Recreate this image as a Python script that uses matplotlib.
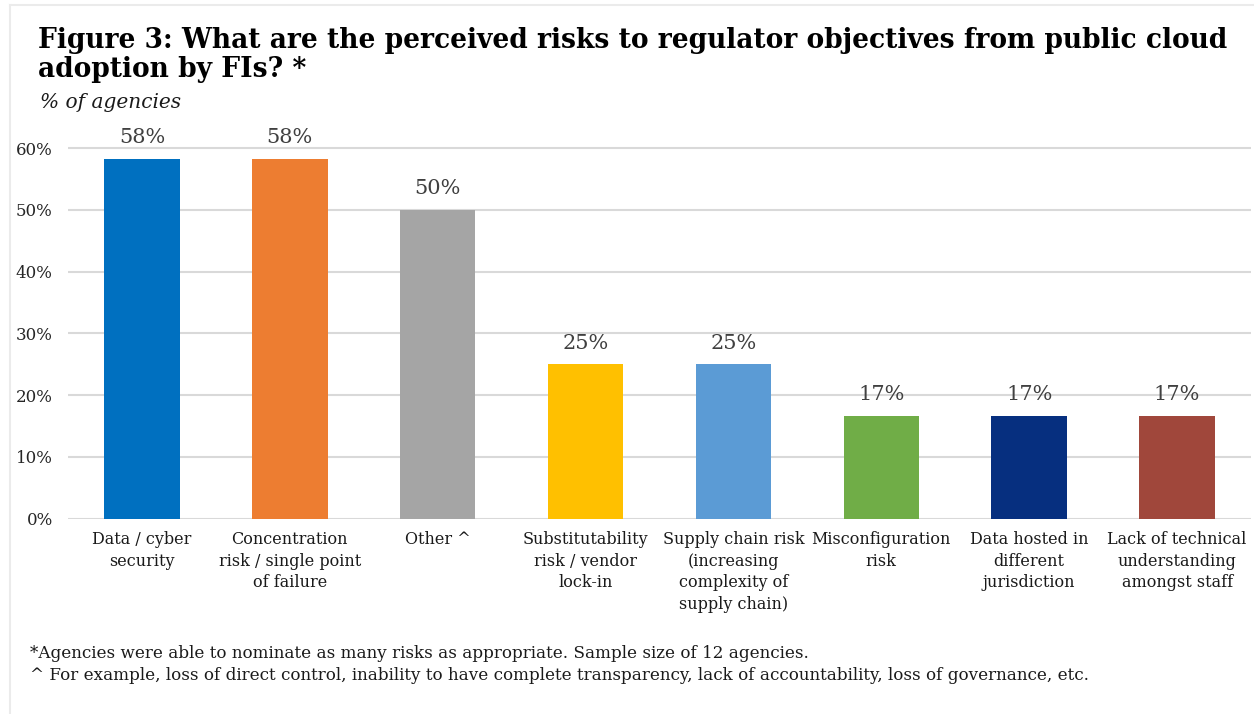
import matplotlib
matplotlib.use("Agg")
import matplotlib.pyplot as plt
from matplotlib.lines import Line2D

plt.rcParams['font.family'] = ['DejaVu Serif']

categories = [
    "Data / cyber\nsecurity",
    "Concentration\nrisk / single point\nof failure",
    "Other ^",
    "Substitutability\nrisk / vendor\nlock-in",
    "Supply chain risk\n(increasing\ncomplexity of\nsupply chain)",
    "Misconfiguration\nrisk",
    "Data hosted in\ndifferent\njurisdiction",
    "Lack of technical\nunderstanding\namongst staff",
]
# agencies nominating each risk, out of a sample of 12
counts = [7, 7, 6, 3, 3, 2, 2, 2]
sample_size = 12
shares = [100 * c / sample_size for c in counts]
colors = ["#0070C0", "#ED7D31", "#A5A5A5", "#FFC000",
          "#5B9BD5", "#70AD47", "#062F7F", "#A0473B"]
yticks = [0, 10, 20, 30, 40, 50, 60]

fig = plt.figure(figsize=(12.54, 7.14), dpi=100)
ax = fig.add_axes([68 / 1254, 1 - 518.5 / 714, (1251 - 68) / 1254, (518.5 - 145.2) / 714])

x = list(range(len(categories)))
ax.bar(x, shares, width=0.51, color=colors, zorder=3)
for xi, v in zip(x, shares):
    ax.text(xi, v + 1.9, f"{v:.0f}%", ha="center", va="bottom",
            fontsize=15, color="#404040")

ax.set_xlim(-0.5, len(categories) - 0.5)
ax.set_ylim(0, 60.5)
ax.set_yticks(yticks)
ax.set_yticklabels([f"{t}%" for t in yticks], fontsize=12, color="#262626")
ax.set_xticks(x)
ax.set_xticklabels(categories, fontsize=11.5, color="#1a1a1a", linespacing=1.35, va="top")
ax.tick_params(length=0)
ax.tick_params(axis="x", pad=9)
ax.tick_params(axis="y", pad=11)
ax.grid(axis="y", color="#D9D9D9", linewidth=1.5, zorder=0)
ax.set_axisbelow(True)
for s in ax.spines.values():
    s.set_visible(False)

fig.text(38 / 1254, 1 - 55 / 714,
         "Figure 3: What are the perceived risks to regulator objectives from public cloud\nadoption by FIs? *",
         fontsize=19.1, fontweight="bold", va="center", ha="left", linespacing=1.1, color="black")
fig.text(40 / 1254, 1 - 102 / 714, "% of agencies", fontsize=14.5, style="italic",
         va="center", ha="left", color="#1a1a1a")

fig.text(30 / 1254, 1 - 653 / 714,
         "*Agencies were able to nominate as many risks as appropriate. Sample size of 12 agencies.",
         fontsize=12.1, va="center", ha="left", color="#1a1a1a")
fig.text(30 / 1254, 1 - 676 / 714,
         "^ For example, loss of direct control, inability to have complete transparency, lack of accountability, loss of governance, etc.",
         fontsize=12.1, va="center", ha="left", color="#1a1a1a")

# light frame around the figure panel
fig.add_artist(Line2D([10 / 1254, 10 / 1254], [0, 1 - 5 / 714], transform=fig.transFigure,
                      color="#EBEBEB", linewidth=1.5))
fig.add_artist(Line2D([10 / 1254, 1], [1 - 5 / 714, 1 - 5 / 714], transform=fig.transFigure,
                      color="#EBEBEB", linewidth=1.5))

fig.savefig("out.png", dpi=100, facecolor="white")
